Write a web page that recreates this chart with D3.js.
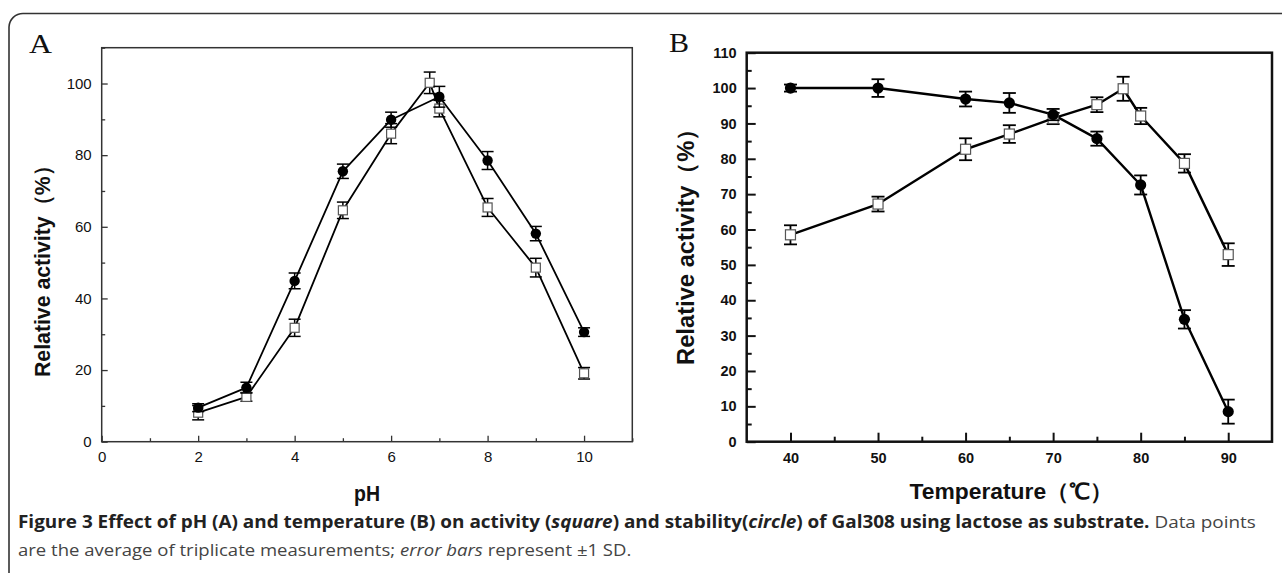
<!DOCTYPE html>
<html>
<head>
<meta charset="utf-8">
<script src="https://cdn.jsdelivr.net/npm/d3@7"></script>
<style>
  html, body { margin: 0; padding: 0; background: #fff; }
  svg { display: block; }
</style>
</head>
<body>
<svg id="chart" width="1282" height="573"></svg>
<script>
// ---------- Data ----------
// Panel A: pH
const phStabX = [2, 3, 4, 5, 6, 7, 8, 9, 10];
const phStability = [9.5, 15.1, 44.9, 75.5, 89.9, 96.3, 78.5, 58.1, 30.6];
const phStabilityErr = [1.1, 1.5, 2.2, 2.0, 2.1, 2.9, 2.5, 2.0, 1.2];
const phActX = [2, 3, 4, 5, 6, 6.8, 7, 8, 9, 10];
const phActivity = [8.1, 12.5, 31.8, 64.6, 86.0, 100.2, 93.0, 65.4, 48.6, 19.1];
const phActivityErr = [2.0, 1.2, 2.4, 2.3, 2.8, 3.0, 2.3, 2.5, 2.6, 1.6];
const phXTicks = [0, 2, 4, 6, 8, 10];
const phXMinor = [1, 3, 5, 7, 9, 11];
const phYTicks = [0, 20, 40, 60, 80, 100];
const phYMinor = [10, 30, 50, 70, 90, 110];

// Panel B: temperature
const tStabX = [40, 50, 60, 65, 70, 75, 80, 85, 90];
const tStability = [100, 100, 96.9, 95.8, 92.5, 85.7, 72.6, 34.6, 8.5];
const tStabilityErr = [1.0, 2.5, 2.1, 2.8, 1.6, 2.0, 2.7, 2.6, 3.4];
const tActX = [40, 50, 60, 65, 70, 75, 78, 80, 85, 90];
const tActivity = [58.5, 67.2, 82.7, 87.0, 91.4, 95.3, 99.8, 92.1, 78.7, 52.9];
const tActivityErr = [2.7, 2.1, 3.1, 2.5, 1.6, 2.1, 3.4, 2.3, 2.6, 3.2];
const tXTicks = [40, 50, 60, 70, 80, 90];
const tXMinor = [45, 55, 65, 75, 85];
const tYTicks = [0, 10, 20, 30, 40, 50, 60, 70, 80, 90, 100, 110];
const tYMinor = [5, 15, 25, 35, 45, 55, 65, 75, 85, 95, 105];

const yLabel = "Relative activity（%）";
const captionBold = "Figure 3 Effect of pH (A) and temperature (B) on activity (";
// ---------- Drawing ----------
const svg = d3.select("#chart");

// outer figure frame (rounded top-left, continues past right and bottom)
svg.append("path")
  .attr("d", "M9,600 L9,27 A14,14 0 0 1 23,13.5 L1300,13.5")
  .attr("fill", "none").attr("stroke", "#333").attr("stroke-width", 1.6);

function panel(opt) {
  const g = svg.append("g");
  const x = d3.scaleLinear().domain(opt.xDomain).range([opt.left, opt.right]);
  const y = d3.scaleLinear().domain(opt.yDomain).range([opt.bottom, opt.top]);

  // minor ticks
  g.append("g").attr("transform", `translate(0,${opt.bottom})`)
    .call(d3.axisBottom(x).tickValues(opt.xMinor).tickFormat("").tickSize(-opt.minorLen))
    .call(s => s.select(".domain").remove())
    .selectAll("line").attr("stroke", opt.axisColor).attr("stroke-width", opt.tickW);
  g.append("g").attr("transform", `translate(${opt.left},0)`)
    .call(d3.axisLeft(y).tickValues(opt.yMinor).tickFormat("").tickSize(-opt.minorLen))
    .call(s => s.select(".domain").remove())
    .selectAll("line").attr("stroke", opt.axisColor).attr("stroke-width", opt.tickW);

  // major ticks
  const xa = g.append("g").attr("transform", `translate(0,${opt.bottom})`)
    .call(d3.axisBottom(x).tickValues(opt.xTicks).tickFormat(d3.format("d"))
      .tickSize(-opt.majorLen).tickPadding(opt.xPad))
    .call(s => s.select(".domain").remove());
  xa.selectAll("line").attr("stroke", opt.axisColor).attr("stroke-width", opt.tickW);
  xa.selectAll("text").attr("font-family", opt.tickFont).attr("font-size", opt.tickSize)
    .attr("font-weight", opt.tickWeight).attr("fill", "#111");
  const ya = g.append("g").attr("transform", `translate(${opt.left},0)`)
    .call(d3.axisLeft(y).tickValues(opt.yTicks).tickFormat(d3.format("d"))
      .tickSize(-opt.majorLen).tickPadding(opt.yPad))
    .call(s => s.select(".domain").remove());
  ya.selectAll("line").attr("stroke", opt.axisColor).attr("stroke-width", opt.tickW);
  ya.selectAll("text").attr("font-family", opt.tickFont).attr("font-size", opt.tickSize)
    .attr("font-weight", opt.tickWeight).attr("fill", "#111");

  // frame
  g.append("rect")
    .attr("x", opt.left).attr("y", opt.top)
    .attr("width", opt.right - opt.left).attr("height", opt.bottom - opt.top)
    .attr("fill", "none").attr("stroke", opt.frameColor).attr("stroke-width", opt.frameW);

  const line = d3.line().x(d => x(d.x)).y(d => y(d.v));
  const sq = opt.actX.map((v, i) => ({ x: v, v: opt.act[i], e: opt.actErr[i] }));
  const ci = opt.stabX.map((v, i) => ({ x: v, v: opt.stab[i], e: opt.stabErr[i] }));

  [sq, ci].forEach(data => {
    g.append("path").datum(data).attr("d", line)
      .attr("fill", "none").attr("stroke", "#000").attr("stroke-width", opt.lineW)
      .attr("stroke-linejoin", "round");
  });

  function errorBars(data) {
    const eb = g.append("g").attr("stroke", "#000").attr("stroke-width", opt.errW).attr("fill", "none");
    data.forEach(d => {
      const cx = x(d.x), y1 = y(d.v + d.e), y2 = y(d.v - d.e), hw = opt.capW / 2;
      eb.append("line").attr("x1", cx).attr("x2", cx).attr("y1", y1).attr("y2", y2);
      eb.append("line").attr("x1", cx - hw).attr("x2", cx + hw).attr("y1", y1).attr("y2", y1);
      eb.append("line").attr("x1", cx - hw).attr("x2", cx + hw).attr("y1", y2).attr("y2", y2);
    });
  }
  errorBars(sq);
  g.selectAll(null).data(sq).enter().append("rect")
    .attr("x", d => x(d.x) - opt.sqSize / 2).attr("y", d => y(d.v) - opt.sqSize / 2)
    .attr("width", opt.sqSize).attr("height", opt.sqSize)
    .attr("fill", "#fff").attr("stroke", "#555").attr("stroke-width", 1.2);
  errorBars(ci);
  g.selectAll(null).data(ci).enter().append("circle")
    .attr("cx", d => x(d.x)).attr("cy", d => y(d.v)).attr("r", opt.r).attr("fill", "#000");

  // axis titles
  g.append("text")
    .attr("transform", `translate(${opt.yTitleX},${opt.yTitleY}) rotate(-90)`)
    .attr("text-anchor", "middle").attr("font-family", "Liberation Sans, Arial, sans-serif")
    .attr("font-weight", "bold").attr("font-size", opt.yTitleSize).attr("fill", "#111")
    .attr("textLength", opt.yTitleLen).attr("lengthAdjust", "spacingAndGlyphs")
    .text(yLabel);
  g.append("text")
    .attr("x", opt.xTitleX).attr("y", opt.xTitleY)
    .attr("text-anchor", "middle").attr("font-family", "Liberation Sans, Arial, sans-serif")
    .attr("font-weight", "bold").attr("font-size", opt.xTitleSize).attr("fill", "#111")
    .attr("textLength", opt.xTitleLen).attr("lengthAdjust", "spacingAndGlyphs")
    .text(opt.xTitle);

  // panel letter
  g.append("text").attr("x", opt.letterX).attr("y", opt.letterY)
    .attr("font-family", "Liberation Serif, Times New Roman, serif").attr("font-size", 28)
    .attr("textLength", opt.letterLen).attr("lengthAdjust", "spacingAndGlyphs")
    .attr("fill", "#111").text(opt.letter);
}

panel({
  xDomain: [0, 11], yDomain: [0, 110],
  left: 101.7, right: 632.3, top: 47.7, bottom: 441.7,
  xTicks: phXTicks, xMinor: phXMinor, yTicks: phYTicks, yMinor: phYMinor,
  majorLen: 6, minorLen: 3.5, tickW: 1.3, axisColor: "#333",
  xPad: 10, yPad: 10, tickFont: "Liberation Sans, Arial, sans-serif", tickSize: 15, tickWeight: "normal",
  frameColor: "#333", frameW: 1.5,
  stabX: phStabX, stab: phStability, stabErr: phStabilityErr,
  actX: phActX, act: phActivity, actErr: phActivityErr,
  lineW: 1.8, errW: 1.5, capW: 12, sqSize: 9, r: 5.2,
  yTitleX: 50, yTitleY: 266, yTitleSize: 22, yTitleLen: 222,
  xTitle: "pH", xTitleX: 367, xTitleY: 501, xTitleSize: 22, xTitleLen: 26,
  letter: "A", letterX: 29, letterY: 53, letterLen: 23
});

panel({
  xDomain: [35, 95], yDomain: [0, 110],
  left: 746.7, right: 1272, top: 52.7, bottom: 441.7,
  xTicks: tXTicks, xMinor: tXMinor, yTicks: tYTicks, yMinor: tYMinor,
  majorLen: 9, minorLen: 5, tickW: 2, axisColor: "#111",
  xPad: 11, yPad: 10, tickFont: "Liberation Sans, Arial, sans-serif", tickSize: 14.5, tickWeight: "bold",
  frameColor: "#111", frameW: 2.5,
  stabX: tStabX, stab: tStability, stabErr: tStabilityErr,
  actX: tActX, act: tActivity, actErr: tActivityErr,
  lineW: 2.4, errW: 1.8, capW: 13, sqSize: 10, r: 5.6,
  yTitleX: 694, yTitleY: 241, yTitleSize: 23, yTitleLen: 248,
  xTitle: "Temperature（℃）", xTitleX: 1011, xTitleY: 499, xTitleSize: 22, xTitleLen: 203,
  letter: "B", letterX: 669, letterY: 52, letterLen: 20
});

// ---------- Caption ----------
const capFont = "Open Sans, Noto Sans, sans-serif";
const line1 = svg.append("text").attr("font-family", capFont).attr("font-size", 17).attr("fill", "#222");
line1.append("tspan").attr("font-weight", "bold").text(captionBold);
line1.append("tspan").attr("font-weight", "bold").attr("font-style", "italic").text("square");
line1.append("tspan").attr("font-weight", "bold").text(") and stability(");
line1.append("tspan").attr("font-weight", "bold").attr("font-style", "italic").text("circle");
line1.append("tspan").attr("font-weight", "bold").text(") of Gal308 using lactose as substrate.");
line1.append("tspan").attr("fill", "#444").text(" Data points");

const line2 = svg.append("text").attr("font-family", capFont).attr("font-size", 17).attr("fill", "#444");
line2.append("tspan").text("are the average of triplicate measurements; ");
line2.append("tspan").attr("font-style", "italic").text("error bars");
line2.append("tspan").text(" represent ±1 SD.");

const w1 = line1.node().getComputedTextLength();
const sx1 = (1257 - 18) / w1;
line1.attr("transform", `translate(18,528) scale(${sx1},1)`);
const w2 = line2.node().getComputedTextLength();
const sx2 = (632 - 18) / w2;
line2.attr("transform", `translate(18,556) scale(${sx2},1)`);
</script>
</body>
</html>
